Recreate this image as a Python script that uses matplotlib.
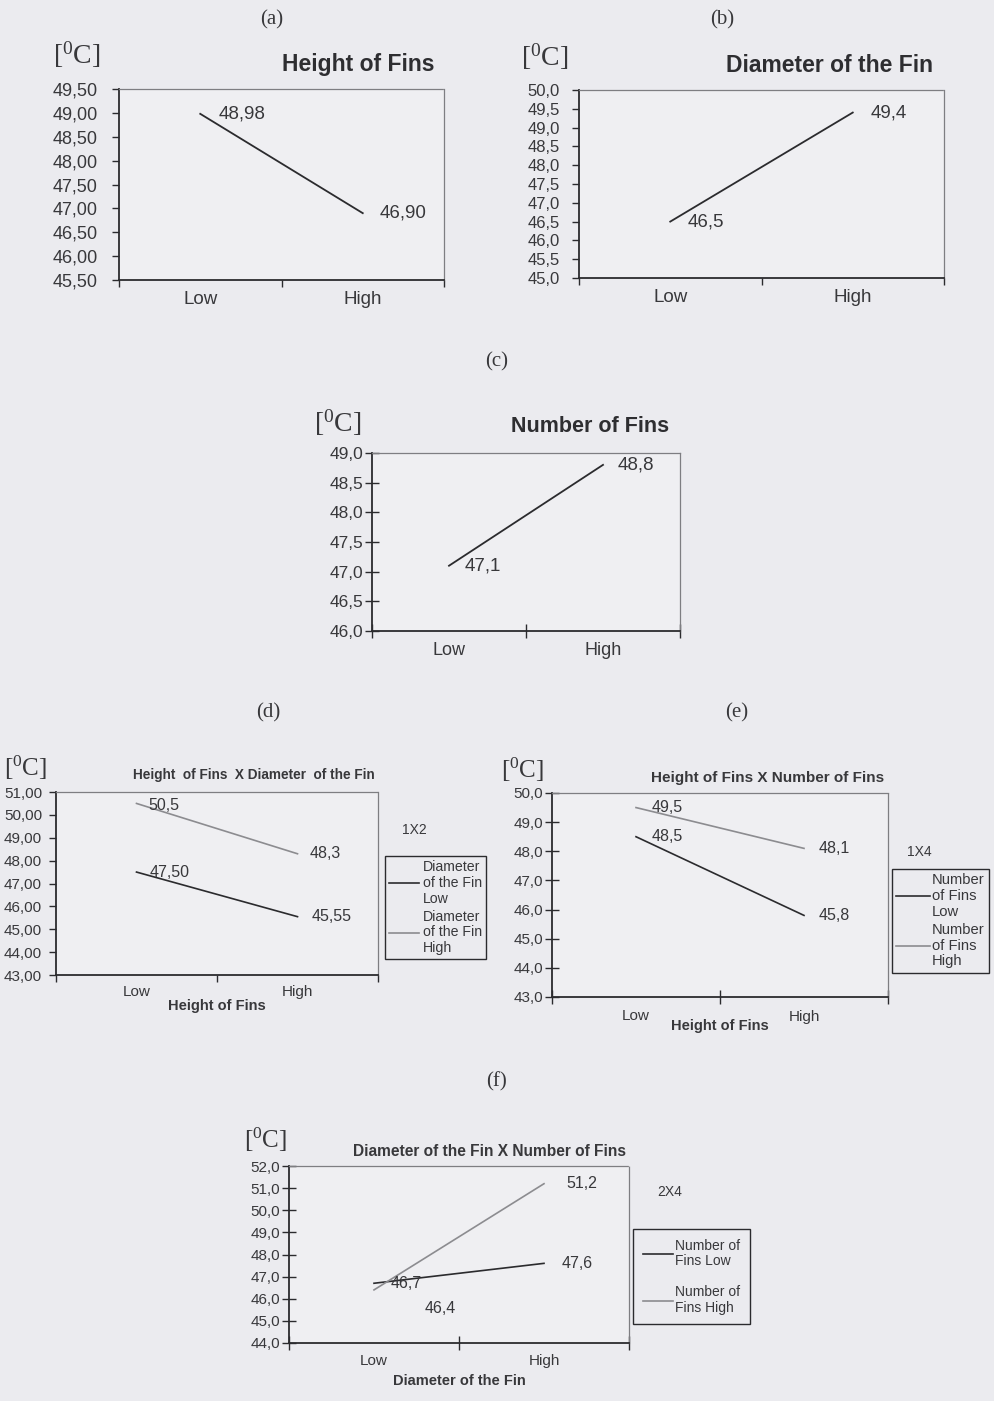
import numpy as np
import matplotlib
matplotlib.use('Agg')
import matplotlib.pyplot as plt
from matplotlib.ticker import FixedLocator, FuncFormatter, NullFormatter

W, H = 995, 1401
PAGE = '#ebebef'
DARK = '#2b2b2e'
GREY = '#8c8c90'
TXT = '#38383b'

plt.rcParams['font.family'] = ['Liberation Sans', 'DejaVu Sans']

cats = ['Low', 'High']

# (a) (b) (c) main effects
height_vals = [48.98, 46.90]
height_labels = ['48,98', '46,90']
diam_vals = [46.5, 49.4]
diam_labels = ['46,5', '49,4']
number_vals = [47.1, 48.8]
number_labels = ['47,1', '48,8']

# (d) Height x Diameter
hxd_low = [47.50, 45.55]
hxd_low_labels = ['47,50', '45,55']
hxd_high = [50.5, 48.3]
hxd_high_labels = ['50,5', '48,3']

# (e) Height x Number
hxn_low = [48.5, 45.8]
hxn_low_labels = ['48,5', '45,8']
hxn_high = [49.5, 48.1]
hxn_high_labels = ['49,5', '48,1']

# (f) Diameter x Number
dxn_low = [46.7, 47.6]
dxn_low_labels = ['46,7', '47,6']
dxn_high = [46.4, 51.2]
dxn_high_labels = ['46,4', '51,2']

fig = plt.figure(figsize=(W / 100, H / 100), dpi=100)
fig.patch.set_facecolor(PAGE)


def fx(x):
    return x / W


def fy(y):
    return 1 - y / H


def make_axes(l, t, r, b, ylim, step, dec, fs, tickdir, ticklen, ypad, xfs, xpad):
    ax = fig.add_axes([fx(l), fy(b), (r - l) / W, (b - t) / H])
    ax.set_facecolor('#efeff2')
    ax.set_xlim(0, 2)
    ax.set_ylim(*ylim)
    yt = np.arange(ylim[0], ylim[1] + step / 2, step)
    ax.yaxis.set_major_locator(FixedLocator(yt))
    ax.yaxis.set_major_formatter(FuncFormatter(lambda v, p: f'{v:.{dec}f}'.replace('.', ',')))
    ax.xaxis.set_major_locator(FixedLocator([0, 1, 2]))
    ax.xaxis.set_major_formatter(NullFormatter())
    ax.xaxis.set_minor_locator(FixedLocator([0.5, 1.5]))
    ax.xaxis.set_minor_formatter(FuncFormatter(lambda v, p: cats[int(v)]))
    ax.tick_params(axis='y', direction=tickdir, length=ticklen, width=1.0, color=DARK,
                   labelsize=fs, labelcolor=TXT, pad=ypad)
    ax.tick_params(axis='x', which='major', direction=tickdir, length=ticklen, width=1.0, color=DARK)
    ax.tick_params(axis='x', which='minor', length=0, labelsize=xfs, labelcolor=TXT, pad=xpad)
    for s in ['left', 'bottom']:
        ax.spines[s].set_color(DARK)
        ax.spines[s].set_linewidth(1.3)
    for s in ['top', 'right']:
        ax.spines[s].set_color('#7e7e82')
        ax.spines[s].set_linewidth(0.9)
        ax.spines[s].set_linestyle((0, (1, 1)))
    return ax


def unit_label(x, y, fs):
    fig.text(fx(x), fy(y), r'$\mathregular{[^0C]}$', family='Liberation Serif',
             fontsize=fs, color=TXT, ha='center', va='center')


def letter(x, y, s):
    fig.text(fx(x), fy(y), s, family='Liberation Serif', fontsize=15, color=TXT,
             ha='center', va='center')


def put_labels(ax, vals, labels, offsets, fs):
    for i, (v, s) in enumerate(zip(vals, labels)):
        ax.annotate(s, (i + 0.5, v), xytext=offsets[i], textcoords='offset pixels',
                    ha='left', va='center', fontsize=fs, color=TXT)


def add_legend(handles, x, y, fs, hl, htp, ls, bp):
    leg = fig.legend(handles=handles, loc='upper left', bbox_to_anchor=(fx(x), fy(y)),
                     bbox_transform=fig.transFigure, borderaxespad=0, fontsize=fs,
                     frameon=True, fancybox=False, edgecolor=DARK, facecolor=PAGE,
                     framealpha=1, handlelength=hl, handletextpad=htp, labelspacing=ls,
                     borderpad=bp, labelcolor=TXT)
    leg.get_frame().set_linewidth(1.0)
    for t in leg.get_texts():
        t.set_linespacing(1.15)
    return leg


# (a)
letter(272, 20, '(a)')
unit_label(77, 55, 20)
ax = make_axes(119, 89, 444, 280, (45.5, 49.5), 0.5, 2, 13, 'out', 5, 10.5, 13.5, 8)
ax.plot([0.5, 1.5], height_vals, color=DARK, lw=1.3)
put_labels(ax, height_vals, height_labels, [(18, 0), (17, 0)], 13.5)
fig.text(fx(358), fy(65), 'Height of Fins', fontsize=16.5, fontweight='bold', color='#2e2e31',
         ha='center', va='center')

# (b)
letter(722, 20, '(b)')
unit_label(545, 57, 20)
ax = make_axes(579, 90, 944, 278, (45.0, 50.0), 0.5, 1, 12, 'out', 5, 9, 13.5, 8)
ax.plot([0.5, 1.5], diam_vals, color=DARK, lw=1.3)
put_labels(ax, diam_vals, diam_labels, [(17, 0), (18, 0)], 13.5)
fig.text(fx(830), fy(66), 'Diameter of the Fin', fontsize=16.5, fontweight='bold', color='#2e2e31',
         ha='center', va='center')

# (c)
letter(497, 362, '(c)')
unit_label(338, 423, 20)
ax = make_axes(372, 453, 680, 631, (46.0, 49.0), 0.5, 1, 12.5, 'inout', 10, 1.5, 13, 8)
ax.plot([0.5, 1.5], number_vals, color=DARK, lw=1.3)
put_labels(ax, number_vals, number_labels, [(16, 0), (15, 0)], 13.5)
fig.text(fx(590), fy(427), 'Number of Fins', fontsize=15.5, fontweight='bold', color='#2e2e31',
         ha='center', va='center')

# (d)
letter(268, 713, '(d)')
letter(737, 713, '(e)')
unit_label(26, 768, 18)
ax = make_axes(56, 792, 378, 975, (43.0, 51.0), 1.0, 2, 11, 'out', 5, 5, 11, 7)
l1, = ax.plot([0.5, 1.5], hxd_low, color=DARK, lw=1.2, label='Diameter\nof the Fin\nLow')
l2, = ax.plot([0.5, 1.5], hxd_high, color=GREY, lw=1.2, label='Diameter\nof the Fin\nHigh')
put_labels(ax, hxd_low, hxd_low_labels, [(13, 0), (14, 0)], 11.5)
put_labels(ax, hxd_high, hxd_high_labels, [(12, -2), (12, 0)], 11.5)
fig.text(fx(254), fy(775), 'Height  of Fins  X Diameter  of the Fin', fontsize=9.8,
         fontweight='bold', color=TXT, ha='center', va='center')
fig.text(fx(414), fy(830), '1X2', fontsize=10, color=TXT, ha='center', va='center')
ax.set_xlabel('Height of Fins', fontsize=10.5, fontweight='bold', color=TXT, labelpad=0)
add_legend([l1, l2], 385, 856, 10.2, 2.1, 0.25, 0.3, 0.3)

# (e)
unit_label(523, 770, 18)
ax = make_axes(552, 793, 888, 997, (43.0, 50.0), 1.0, 1, 11, 'inout', 10, 1.5, 11, 9)
l1, = ax.plot([0.5, 1.5], hxn_low, color=DARK, lw=1.2, label='Number\nof Fins\nLow')
l2, = ax.plot([0.5, 1.5], hxn_high, color=GREY, lw=1.2, label='Number\nof Fins\nHigh')
put_labels(ax, hxn_low, hxn_low_labels, [(16, 0), (15, 0)], 11.5)
put_labels(ax, hxn_high, hxn_high_labels, [(16, 0), (15, 0)], 11.5)
fig.text(fx(768), fy(778), 'Height of Fins X Number of Fins', fontsize=11,
         fontweight='bold', color=TXT, ha='center', va='center')
fig.text(fx(919), fy(852), '1X4', fontsize=10, color=TXT, ha='center', va='center')
ax.set_xlabel('Height of Fins', fontsize=10.5, fontweight='bold', color=TXT, labelpad=-3)
add_legend([l1, l2], 892, 869, 10.6, 2.3, 0.1, 0.3, 0.3)

# (f)
letter(497, 1082, '(f)')
unit_label(266, 1140, 18)
ax = make_axes(289, 1166, 629, 1343, (44.0, 52.0), 1.0, 1, 11, 'inout', 10, 1.5, 11, 8)
l1, = ax.plot([0.5, 1.5], dxn_low, color=DARK, lw=1.2, label='Number of\nFins Low')
l2, = ax.plot([0.5, 1.5], dxn_high, color=GREY, lw=1.2, label='Number of\nFins High')
put_labels(ax, dxn_low, dxn_low_labels, [(17, 0), (18, 0)], 11.5)
put_labels(ax, dxn_high, dxn_high_labels, [(51, -19), (22, 0)], 11.5)
fig.text(fx(490), fy(1151), 'Diameter of the Fin X Number of Fins', fontsize=11.2,
         fontweight='bold', color=TXT, ha='center', va='center')
fig.text(fx(670), fy(1192), '2X4', fontsize=10, color=TXT, ha='center', va='center')
ax.set_xlabel('Diameter of the Fin', fontsize=10.5, fontweight='bold', color=TXT, labelpad=4)
add_legend([l1, l2], 633, 1229, 10, 2.2, 0.1, 1.2, 0.7)

fig.savefig('out.png', dpi=100, facecolor=PAGE)
